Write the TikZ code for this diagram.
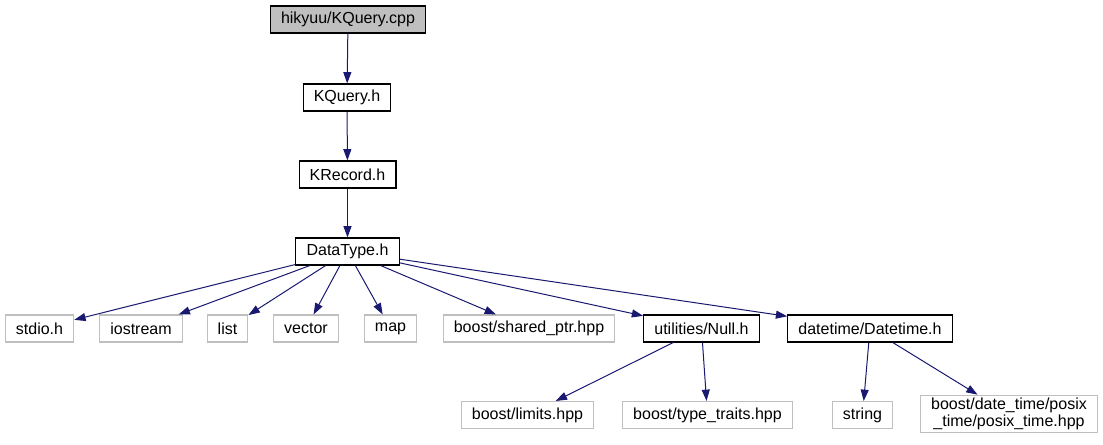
\documentclass[tikz,border=0pt]{standalone}
\usepackage{fontspec}
\setmainfont{Liberation Sans}
\usetikzlibrary{arrows.meta, positioning}
\definecolor{edgeblue}{RGB}{25, 25, 112}
\definecolor{extgray}{RGB}{191, 191, 191}
\definecolor{rootgray}{RGB}{191, 191, 191}

\begin{document}
\begin{tikzpicture}[
    x=0.75pt, y=-0.75pt, % one unit = one pixel of the graph
    every node/.style={font=\fontsize{12}{13}\selectfont},
    file/.style={rectangle, draw=black, fill=white, line width=0.8pt, minimum height=20.25pt, inner xsep=8pt, inner ysep=2pt, align=center},
    rootfile/.style={file, fill=rootgray},
    extfile/.style={file, draw=extgray},
    dep/.style={-{Triangle[length=8.5pt, width=6pt]}, edgeblue, line width=0.75pt},
]
\useasboundingbox (0,0) rectangle (1103,445);

% Include chain
\node[rootfile] (cpp) at (348, 19.5) {hikyuu/KQuery.cpp};
\node[file] (kquery) at (347, 97.5) {KQuery.h};
\node[file] (krecord) at (347.5, 174.5) {KRecord.h};
\node[file] (datatype) at (347.5, 251.5) {DataType.h};

% Headers of DataType.h
\node[extfile] (stdio) at (39.5, 328.5) {stdio.h};
\node[extfile] (iostream) at (141, 328.5) {iostream};
\node[extfile] (list) at (227.5, 328.5) {list};
\node[extfile] (vector) at (306, 328.5) {vector};
\node[extfile] (map) at (390.5, 328.5) {map};
\node[extfile] (sharedptr) at (529, 328.5) {boost/shared\_ptr.hpp};
\node[file] (null) at (701.5, 328.5) {utilities/Null.h};
\node[file] (datetime) at (870, 328.5) {datetime/Datetime.h};

% Second level
\node[extfile] (limits) at (527.5, 415) {boost/limits.hpp};
\node[extfile] (typetraits) at (707.5, 415) {boost/type\_traits.hpp};
\node[extfile] (string) at (862.5, 415) {string};
\node[extfile] (posix) at (1009, 414) {boost/date\_time/posix\\\_time/posix\_time.hpp};

% Include edges
\draw[dep] (cpp) -- (kquery);
\draw[dep] (kquery) -- (krecord);
\draw[dep] (krecord) -- (datatype);

\draw[dep] (datatype) -- (stdio);
\draw[dep] (datatype) -- (iostream);
\draw[dep] (datatype) -- (list);
\draw[dep] (datatype) -- (vector);
\draw[dep] (datatype) -- (map);
\draw[dep] (datatype) -- (sharedptr);
\draw[dep] (datatype) -- (null);
\draw[dep] (datatype) -- (datetime);

\draw[dep] (null) -- (limits);
\draw[dep] (null) -- (typetraits);
\draw[dep] (datetime) -- (string);
\draw[dep] (datetime) -- (posix);

\end{tikzpicture}
\end{document}
